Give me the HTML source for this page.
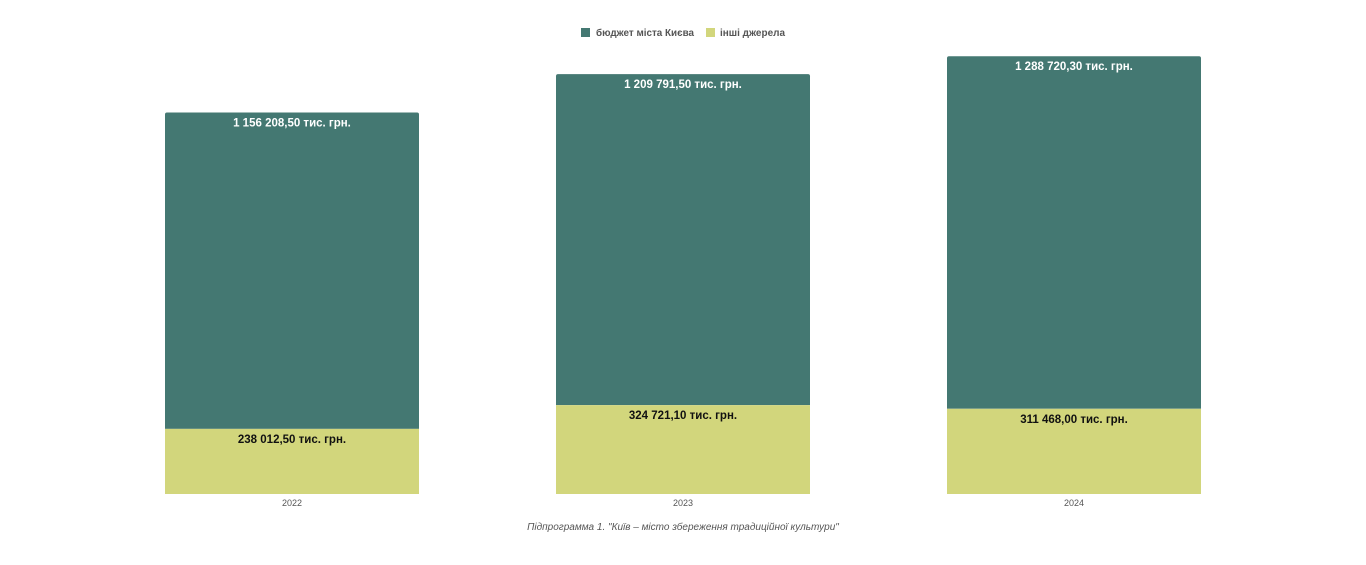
<!DOCTYPE html>
<html><head><meta charset="utf-8"><style>
body{margin:0;background:#fff;width:1366px;height:560px;overflow:hidden;font-family:"Liberation Sans",sans-serif}
</style></head><body>
<svg id="chart" width="1366" height="560" xmlns="http://www.w3.org/2000/svg">
<g font-size="10.5" font-weight="bold" fill="#555">
<g><rect x="581" y="28" width="9" height="9" fill="#447872"/><text x="596" y="36" textLength="98" lengthAdjust="spacingAndGlyphs">бюджет міста Києва</text></g>
<g><rect x="706" y="28" width="9" height="9" fill="#d2d67c"/><text x="720" y="36" textLength="65" lengthAdjust="spacingAndGlyphs">інші джерела</text></g>
</g>
<g id="bars"></g>
<text x="683" y="530" text-anchor="middle" font-size="10" font-style="italic" fill="#555">Підпрограмма 1. "Київ – місто збереження традиційної культури"</text>
</svg>
<script>
const categories=["2022","2023","2024"];
const budget=[1156208.50,1209791.50,1288720.30];
const other=[238012.50,324721.10,311468.00];
const budgetLabels=["1 156 208,50 тис. грн.","1 209 791,50 тис. грн.","1 288 720,30 тис. грн."];
const otherLabels=["238 012,50 тис. грн.","324 721,10 тис. грн.","311 468,00 тис. грн."];
const NS="http://www.w3.org/2000/svg";
const baseY=494,k=0.0002736,x0=165,step=391,bw=254;
function y(v){return baseY-v*k;}
function xb(i){return x0+i*step;}
const g=document.getElementById('bars');
function mk(t,a){const e=document.createElementNS(NS,t);for(const n in a)e.setAttribute(n,a[n]);g.appendChild(e);return e;}
categories.forEach((c,i)=>{
 const x=xb(i),yo=y(other[i]),yt=y(other[i]+budget[i]);
 const r1=mk('path',{d:`M${x},${yo}V${yt+2}Q${x},${yt} ${x+2},${yt}H${x+bw-2}Q${x+bw},${yt} ${x+bw},${yt+2}V${yo}Z`,fill:'#447872'});
 
 
 const r2=mk('rect',{x:x,y:yo,width:bw,height:baseY-yo,fill:'#d2d67c'});
 
 
 const t1=mk('text',{x:x+bw/2,y:yt+14,'text-anchor':'middle','font-size':'11.5','font-weight':'bold',fill:'#fff'});
 t1.textContent=budgetLabels[i];
 
 
 const t2=mk('text',{x:x+bw/2,y:yo+14,'text-anchor':'middle','font-size':'11.5','font-weight':'bold',fill:'#111'});
 t2.textContent=otherLabels[i];
 
 
 const t3=mk('text',{x:x+bw/2,y:506,'text-anchor':'middle','font-size':'9',fill:'#555'});
 t3.textContent=c;
 
 
});
</script>
</body></html>
